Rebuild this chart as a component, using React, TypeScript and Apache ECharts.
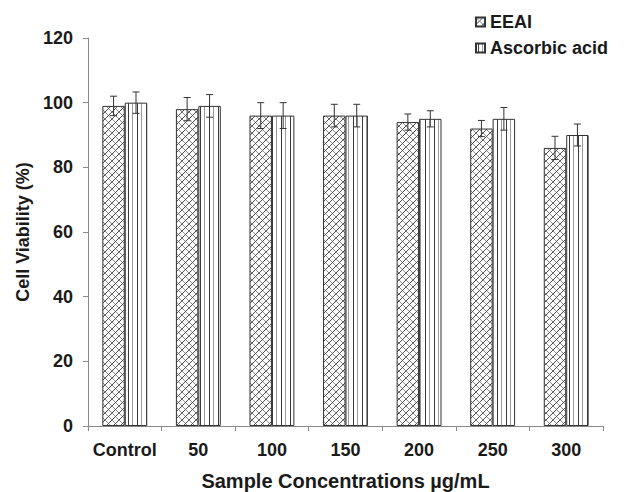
import React, { useEffect, useRef } from "react";
import * as echarts from "echarts";

const categories = ["Control", "50", "100", "150", "200", "250", "300"];
const eeaiValues = [99, 98, 96, 96, 94, 92, 86];
const eeaiErrors = [3, 3.6, 4, 3.5, 2.5, 2.5, 3.6];
const ascorbicValues = [100, 99, 96, 96, 95, 95, 90];
const ascorbicErrors = [3.3, 3.5, 4, 3.5, 2.5, 3.5, 3.4];
const yTicks = { min: 0, max: 120, interval: 20 };

const FONT = "'Liberation Sans', Arial, sans-serif";

function crossHatch(): HTMLCanvasElement {
  const c = document.createElement("canvas");
  const s = 7;
  c.width = s;
  c.height = s;
  const ctx = c.getContext("2d")!;
  ctx.fillStyle = "#ffffff";
  ctx.fillRect(0, 0, s, s);
  ctx.lineWidth = 1;
  for (const off of [-s, 0, s]) {
    ctx.strokeStyle = "#8a8a8a";
    ctx.beginPath();
    ctx.moveTo(off - 1, -1);
    ctx.lineTo(off + s + 1, s + 1);
    ctx.stroke();
    ctx.strokeStyle = "#4a4a4a";
    ctx.beginPath();
    ctx.moveTo(off + s + 1, -1);
    ctx.lineTo(off - 1, s + 1);
    ctx.stroke();
  }
  return c;
}

function vStripes(): HTMLCanvasElement {
  const c = document.createElement("canvas");
  c.width = 9;
  c.height = 4;
  const ctx = c.getContext("2d")!;
  ctx.fillStyle = "#ffffff";
  ctx.fillRect(0, 0, 9, 4);
  ctx.fillStyle = "#3a3a3a";
  ctx.fillRect(2, 0, 1, 4);
  ctx.fillStyle = "#9a9a9a";
  ctx.fillRect(6, 0, 1, 4);
  return c;
}

function errorSeries(values: number[], errors: number[], offset: number) {
  return {
    type: "custom",
    z: 10,
    silent: true,
    data: values.map((v, i) => [i, v, errors[i]]),
    encode: { x: 0, y: 1 },
    renderItem: (params: any, api: any) => {
      const idx = api.value(0);
      const val = api.value(1);
      const err = api.value(2);
      const w = api.size([1, 0])[0];
      const x = api.coord([idx, val])[0] + offset * w;
      const top = api.coord([idx, val + err])[1];
      const bot = api.coord([idx, val - err])[1];
      const cap = 3.5;
      const style = { stroke: "#333333", lineWidth: 1 };
      return {
        type: "group",
        children: [
          { type: "line", shape: { x1: x, y1: top, x2: x, y2: bot }, style },
          { type: "line", shape: { x1: x - cap, y1: top, x2: x + cap, y2: top }, style },
          { type: "line", shape: { x1: x - cap, y1: bot, x2: x + cap, y2: bot }, style },
        ],
      };
    },
  };
}

export default function App() {
  const ref = useRef<HTMLDivElement>(null);
  useEffect(() => {
    if (!ref.current) return;
    const chart = echarts.init(ref.current, undefined, { renderer: "svg" });
    const hatch = { image: crossHatch(), repeat: "repeat" } as any;
    const stripes = { image: vStripes(), repeat: "repeat" } as any;
    const barFrac = 0.305;
    chart.setOption({
      animation: false,
      textStyle: { fontFamily: FONT },
      grid: { left: 88, right: 27, top: 38, bottom: 66, outerBoundsMode: "none", containLabel: false },
      legend: {
        orient: "vertical",
        left: 475,
        top: 12,
        padding: 0,
        itemWidth: 9,
        itemHeight: 9,
        itemGap: 6,
        icon: "rect",
        data: ["EEAI", "Ascorbic acid"],
        textStyle: {
          fontFamily: FONT,
          fontWeight: "bold",
          fontSize: 18,
          color: "#1a1a1a",
          lineHeight: 20,
        },
      },
      xAxis: {
        type: "category",
        data: categories,
        name: "Sample Concentrations µg/mL",
        nameLocation: "middle",
        nameGap: 45,
        nameTextStyle: { fontFamily: FONT, fontWeight: "bold", fontSize: 20, color: "#1a1a1a" },
        axisLine: { lineStyle: { color: "#8a8a8a", width: 1 } },
        axisTick: { show: true, length: 5, lineStyle: { color: "#8a8a8a" } },
        axisLabel: {
          interval: 0,
          fontFamily: FONT,
          fontWeight: "bold",
          fontSize: 18,
          color: "#1a1a1a",
          margin: 15,
        },
        splitLine: { show: false },
      },
      yAxis: {
        type: "value",
        min: yTicks.min,
        max: yTicks.max,
        interval: yTicks.interval,
        name: "Cell Viability (%)",
        nameLocation: "middle",
        nameGap: 55,
        nameTextStyle: { fontFamily: FONT, fontWeight: "bold", fontSize: 18, color: "#1a1a1a" },
        axisLine: { show: true, lineStyle: { color: "#8a8a8a", width: 1 } },
        axisTick: { show: true, length: 5, lineStyle: { color: "#8a8a8a" } },
        axisLabel: { fontFamily: FONT, fontWeight: "bold", fontSize: 18, color: "#1a1a1a", margin: 15 },
        splitLine: { show: false },
      },
      series: [
        {
          name: "EEAI",
          type: "bar",
          data: eeaiValues,
          barGap: "0%",
          barCategoryGap: "39%",
          itemStyle: { color: hatch, borderColor: "#333333", borderWidth: 1 },
        },
        {
          name: "Ascorbic acid",
          type: "bar",
          data: ascorbicValues,
          barGap: "0%",
          barCategoryGap: "39%",
          itemStyle: { color: stripes, borderColor: "#333333", borderWidth: 1 },
        },
        errorSeries(eeaiValues, eeaiErrors, -barFrac / 2),
        errorSeries(ascorbicValues, ascorbicErrors, barFrac / 2),
      ],
    });
    return () => chart.dispose();
  }, []);
  return (
    <div
      ref={ref}
      style={{ position: "fixed", left: 0, top: 0, width: 630, height: 492, background: "#ffffff" }}
    />
  );
}
